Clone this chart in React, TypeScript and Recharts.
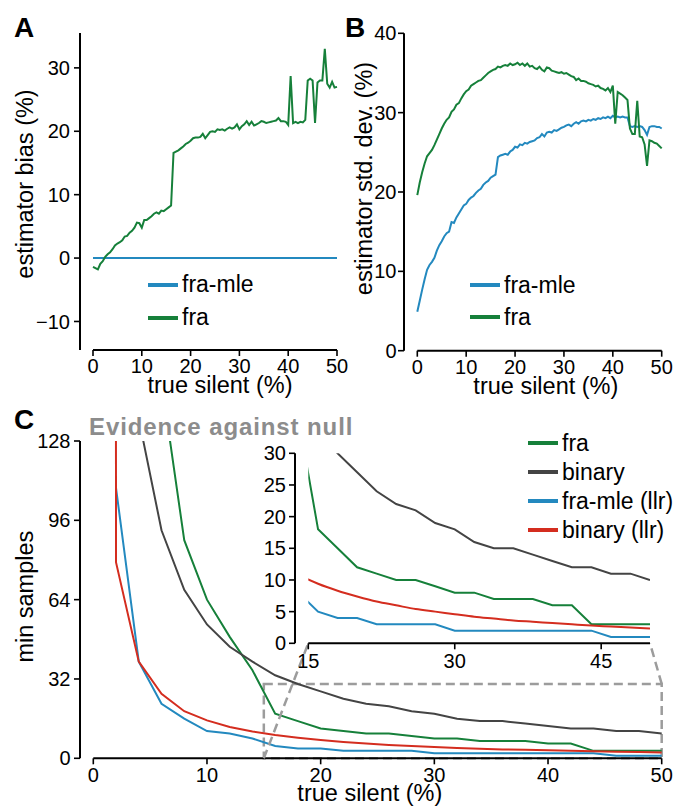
import { LineChart, Line, XAxis, YAxis, Legend, ReferenceLine, ReferenceArea } from 'recharts';

// x grid for panels A and B (true silent, %)
const silentFine = [
  0, 0.5, 1, 1.5, 2, 2.5, 3, 3.5, 4, 4.5,
  5, 5.5, 6, 6.5, 7, 7.5, 8, 8.5, 9, 9.5,
  10, 10.5, 11, 11.5, 12, 12.5, 13, 13.5, 14, 14.5,
  15, 15.5, 16, 16.5, 17, 17.5, 18, 18.5, 19, 19.5,
  20, 20.5, 21, 21.5, 22, 22.5, 23, 23.5, 24, 24.5,
  25, 25.5, 26, 26.5, 27, 27.5, 28, 28.5, 29, 29.5,
  30, 30.5, 31, 31.5, 32, 32.5, 33, 33.5, 34, 34.5,
  35, 35.5, 36, 36.5, 37, 37.5, 38, 38.5, 39, 39.5,
  40, 40.5, 41, 41.5, 42, 42.5, 43, 43.5, 44, 44.5,
  45, 45.5, 46, 46.5, 47, 47.5, 48, 48.5, 49, 49.5,
  50,
];

// A: estimator bias (%)
const biasFraMle = [
  0, 0, 0, 0, 0, 0, 0, 0, 0, 0,
  0, 0, 0, 0, 0, 0, 0, 0, 0, 0,
  0, 0, 0, 0, 0, 0, 0, 0, 0, 0,
  0, 0, 0, 0, 0, 0, 0, 0, 0, 0,
  0, 0, 0, 0, 0, 0, 0, 0, 0, 0,
  0, 0, 0, 0, 0, 0, 0, 0, 0, 0,
  0, 0, 0, 0, 0, 0, 0, 0, 0, 0,
  0, 0, 0, 0, 0, 0, 0, 0, 0, 0,
  0, 0, 0, 0, 0, 0, 0, 0, 0, 0,
  0, 0, 0, 0, 0, 0, 0, 0, 0, 0,
  0,
];
const biasFra = [
  -1.4, -1.6, -1.8, -0.9, -0.5, 0.2, 0.6, 0.9, 1.4, 2.0,
  2.3, 2.5, 2.8, 3.4, 3.5, 4.0, 4.3, 4.8, 5.6, 5.5,
  4.8, 6.0, 6.0, 6.3, 6.6, 7.0, 7.2, 7.0, 7.5, 7.4,
  7.7, 8.0, 8.3, 16.6, 16.8, 17.0, 17.3, 17.6, 18.0, 18.2,
  18.5, 18.9, 19.0, 19.0, 19.1, 19.6, 18.9, 19.4, 19.9, 20.0,
  19.9, 20.3, 20.2, 20.3, 20.1, 20.4, 20.6, 20.4, 20.6, 21.1,
  20.3, 20.8, 21.1, 21.6, 21.0, 21.5, 20.9, 21.1, 21.3, 21.6,
  21.5, 21.3, 21.4, 21.5, 21.6, 21.7, 22.1, 21.6, 21.6, 21.5,
  21.0, 28.7, 21.3, 21.5, 21.3, 21.5, 21.4, 21.8, 28.0, 28.3,
  28.0, 21.3, 27.7, 28.0, 28.0, 33.0, 27.5, 26.9, 27.8, 26.9,
  27.0,
];

// B: estimator std. dev. (%)
const sdFraMle = [
  4.9, 6.3, 7.7, 9.0, 10.2, 10.8, 11.2, 11.7, 12.6, 13.3,
  13.8, 14.4, 14.8, 15.0, 16.2, 16.1, 16.8, 17.3, 17.8, 18.3,
  18.5, 19.0, 19.3, 19.5, 19.9, 20.2, 20.4, 20.9, 21.2, 21.4,
  21.8, 22.0, 22.2, 24.4, 24.6, 24.7, 24.8, 24.7, 25.1, 25.3,
  25.7, 25.6, 26.0, 25.9, 26.2, 26.1, 26.3, 26.4, 26.5, 26.8,
  26.9, 27.3, 27.0, 27.5, 27.6, 27.5, 27.8, 27.7, 27.9, 28.1,
  28.2, 28.4, 28.5, 28.3, 28.6, 28.8, 28.6, 28.9, 29.0, 28.9,
  29.1, 29.0, 29.2, 29.1, 29.3, 29.2, 29.4, 29.3, 29.5, 29.3,
  29.6, 29.4, 29.5, 29.4, 29.5, 29.4, 29.4, 28.3, 28.2, 28.3,
  28.2, 28.3, 28.2, 27.8, 27.2, 28.2, 28.3, 28.3, 28.2, 28.2,
  28.0,
];
const sdFra = [
  19.6, 21.2, 22.5, 23.6, 24.5, 24.9, 25.3, 25.9, 26.6, 27.3,
  28.0, 28.6, 29.1, 29.4, 30.1, 30.4, 31.0, 31.2, 31.8, 32.3,
  32.7, 32.9, 33.4, 33.6, 33.8, 34.0, 34.1, 34.4, 34.7, 35.0,
  35.2, 35.4, 35.5, 35.8, 35.7, 35.9, 36.0, 35.9, 36.2, 36.0,
  36.1, 36.3, 36.0, 36.2, 35.9, 36.2, 35.8, 35.9, 35.6, 35.5,
  35.8, 35.4, 35.2, 35.7, 35.6, 35.3, 35.2, 35.1, 35.0, 35.1,
  34.9, 35.0, 34.8, 34.6, 34.5, 34.1, 34.3, 34.0, 34.0, 33.9,
  33.7, 33.6, 33.5, 33.3, 33.4, 33.1, 33.0, 32.8, 33.1, 32.6,
  33.4, 28.6, 32.6, 32.4, 32.2, 31.9, 31.6, 28.0, 27.3, 27.3,
  31.5, 27.0, 26.9, 26.0, 23.3, 26.5, 26.4, 26.2, 26.1, 25.8,
  25.5,
];

// C: min samples for evidence against null
const silentCoarse = [2, 4, 6, 8, 10, 12, 14, 16, 18, 20, 22, 24, 26, 28, 30, 32, 34, 36, 38, 40, 42, 44, 46, 48, 50];
const samplesFra = [520, 260, 152, 88, 64, 49, 35.5, 18, 15, 12, 11, 10, 10, 9, 8, 8, 7, 7, 7, 6, 6, 3, 3, 3, 3];
const samplesBinary = [300, 137, 92, 68, 54, 45, 39, 33.5, 30, 27, 24, 22, 21, 19, 18, 16, 15, 15, 14, 13, 12, 12, 11, 11, 10];
const samplesFraMleLlr = [109, 39, 22, 16, 11, 10, 8, 5, 4, 4, 3, 3, 3, 3, 2, 2, 2, 2, 2, 2, 2, 2, 1, 1, 1];
const silentBinaryLlr = [1.95, 2, 4, 6, 8, 10, 12, 14, 16, 18, 20, 22, 24, 26, 28, 30, 32, 34, 36, 38, 40, 42, 44, 46, 48, 50];
const samplesBinaryLlr = [400, 79, 39, 26, 19, 15.3, 12.6, 10.8, 9.4, 8.3, 7.4, 6.6, 6.0, 5.4, 5.0, 4.6, 4.2, 3.9, 3.6, 3.4, 3.2, 3.0, 2.8, 2.65, 2.5, 2.35];

const ticksAx = [0, 10, 20, 30, 40, 50];
const ticksAy = [-10, 0, 10, 20, 30];
const ticksBy = [0, 10, 20, 30, 40];
const ticksCy = [0, 32, 64, 96, 128];
const ticksInsetX = [15, 30, 45];
const ticksInsetY = [0, 5, 10, 15, 20, 25, 30];

const orderAB = ['fra-mle', 'fra'];
const orderC = ['fra', 'binary', 'fra-mle (llr)', 'binary (llr)'];

const GREEN = '#16803a';
const BLUE = '#2389bf';
const RED = '#d42d1f';
const GRAY = '#444444';
const DASH = '#9c9c9c';
const FONT = '"Liberation Sans", Arial, Helvetica, sans-serif';

const rowsA = silentFine.map((x, i) => ({ x, fraMle: biasFraMle[i], fra: biasFra[i] }));
const rowsB = silentFine.map((x, i) => ({ x, fraMle: sdFraMle[i], fra: sdFra[i] }));
const rowsC = silentCoarse.map((x, i) => ({
  x,
  fra: samplesFra[i],
  binary: samplesBinary[i],
  fraMleLlr: samplesFraMleLlr[i],
}));
const rowsRed = silentBinaryLlr.map((x, i) => ({ x, binaryLlr: samplesBinaryLlr[i] }));

// inset corners expressed in main panel C data units
const insetLowLeft = { x: 18.91, y: 46.4 };
const insetLowRight = { x: 48.97, y: 46.4 };

const tickStyle = { fill: '#000', fontSize: 20 };
const tickLineStyle = { stroke: '#000', strokeWidth: 1.6 };
const axisLineStyle = { stroke: '#000', strokeWidth: 2 };
const fmtMinus = (v: number) => (v < 0 ? `\u2212${Math.abs(v)}` : `${v}`);

const xLabel = (text: string, dx: number) => (props: any) => {
  const vb = props.viewBox;
  return (
    <text x={vb.x + vb.width / 2 + dx} y={vb.y + 43} textAnchor="middle" fontSize={23.5} fill="#000">
      {text}
    </text>
  );
};

const yLabel = (text: string, dx: number, dy: number) => (props: any) => {
  const vb = props.viewBox;
  const x = vb.x + vb.width + dx;
  const y = vb.y + vb.height / 2 + dy;
  return (
    <text x={x} y={y} transform={`rotate(-90 ${x} ${y})`} textAnchor="middle" fontSize={23.5} fill="#000">
      {text}
    </text>
  );
};

const LegendRows = ({ payload, rowHeight, order }: any) => {
  const items = [...(payload || [])].sort((a: any, b: any) => order.indexOf(a.value) - order.indexOf(b.value));
  return (
    <div style={{ fontFamily: FONT }}>
      {items.map((p: any) => (
        <div key={p.value} style={{ display: 'flex', alignItems: 'center', height: rowHeight }}>
          <span style={{ display: 'inline-block', width: 30, height: 4, background: p.color, marginRight: 4 }} />
          <span style={{ fontSize: 23, color: '#000', whiteSpace: 'nowrap' }}>{p.value}</span>
        </div>
      ))}
    </div>
  );
};

const Letter = ({ text, left, top }: { text: string; left: number; top: number }) => (
  <div style={{ position: 'absolute', left, top, fontSize: 28, fontWeight: 'bold', lineHeight: 1 }}>{text}</div>
);

export default function App() {
  return (
    <div style={{ position: 'absolute', left: 0, top: 0, width: 681, height: 808, background: '#fff', fontFamily: FONT }}>
      {/* A */}
      <div style={{ position: 'absolute', left: 0, top: 0 }}>
        <LineChart width={360} height={400} data={rowsA} margin={{ top: 33, right: 23, bottom: 20, left: 20 }}>
          <XAxis
            type="number"
            dataKey="x"
            domain={[0, 50]}
            ticks={ticksAx}
            interval={0}
            height={30}
            padding={{ left: 13, right: 0 }}
            axisLine={false}
            tickLine={tickLineStyle}
            tickSize={6}
            tickMargin={3}
            tick={tickStyle}
            label={{ content: xLabel('true silent (%)', 11.5) }}
          />
          <YAxis
            width={60}
            domain={[-14.5, 35.5]}
            ticks={ticksAy}
            interval={0}
            axisLine={axisLineStyle}
            tickLine={tickLineStyle}
            tickSize={6}
            tickMargin={4}
            tick={tickStyle}
            tickFormatter={fmtMinus}
            label={{ content: yLabel('estimator bias (%)', -47, -7.5) }}
          />
          <ReferenceLine segment={[{ x: 0, y: -14.5 }, { x: 50, y: -14.5 }]} stroke="#000" strokeWidth={2} />
          <Line dataKey="fraMle" name="fra-mle" stroke={BLUE} strokeWidth={2} dot={false} isAnimationActive={false} />
          <Line dataKey="fra" name="fra" stroke={GREEN} strokeWidth={2} dot={false} isAnimationActive={false} />
          <Legend
            layout="vertical"
            align="center"
            verticalAlign="middle"
            wrapperStyle={{ left: 148, top: 268, width: 'auto' }}
            content={(p: any) => <LegendRows payload={p.payload} rowHeight={33} order={orderAB} />}
          />
        </LineChart>
      </div>

      {/* B */}
      <div style={{ position: 'absolute', left: 330, top: 0 }}>
        <LineChart width={351} height={400} data={rowsB} margin={{ top: 33.3, right: 19.3, bottom: 19.3, left: 14 }}>
          <XAxis
            type="number"
            dataKey="x"
            domain={[0, 50]}
            ticks={ticksAx}
            interval={0}
            height={30}
            padding={{ left: 13.3, right: 0 }}
            axisLine={false}
            tickLine={tickLineStyle}
            tickSize={6}
            tickMargin={3}
            tick={tickStyle}
            label={{ content: xLabel('true silent (%)', 13) }}
          />
          <YAxis
            width={60}
            domain={[0, 40]}
            ticks={ticksBy}
            interval={0}
            axisLine={axisLineStyle}
            tickLine={tickLineStyle}
            tickSize={6}
            tickMargin={1.5}
            tick={tickStyle}
            label={{ content: yLabel('estimator std. dev. (%)', -32, -13.5) }}
          />
          <ReferenceLine segment={[{ x: 0, y: 0 }, { x: 50, y: 0 }]} stroke="#000" strokeWidth={2} />
          <Line dataKey="fraMle" name="fra-mle" stroke={BLUE} strokeWidth={2} dot={false} isAnimationActive={false} />
          <Line dataKey="fra" name="fra" stroke={GREEN} strokeWidth={2} dot={false} isAnimationActive={false} />
          <Legend
            layout="vertical"
            align="center"
            verticalAlign="middle"
            wrapperStyle={{ left: 140, top: 269, width: 'auto' }}
            content={(p: any) => <LegendRows payload={p.payload} rowHeight={32} order={orderAB} />}
          />
        </LineChart>
      </div>

      {/* C main */}
      <div style={{ position: 'absolute', left: 0, top: 400 }}>
        <LineChart width={681} height={408} data={rowsC} margin={{ top: 41, right: 19.3, bottom: 19.7, left: 20 }}>
          <XAxis
            type="number"
            dataKey="x"
            domain={[0, 50]}
            ticks={ticksAx}
            interval={0}
            height={30}
            padding={{ left: 13.3, right: 0 }}
            axisLine={false}
            tickLine={tickLineStyle}
            tickSize={6}
            tickMargin={3}
            tick={tickStyle}
            label={{ content: xLabel('true silent (%)', -1) }}
          />
          <YAxis
            width={60}
            domain={[0, 128]}
            ticks={ticksCy}
            interval={0}
            allowDataOverflow
            axisLine={axisLineStyle}
            tickLine={tickLineStyle}
            tickSize={6}
            tickMargin={3.5}
            tick={tickStyle}
            label={{ content: yLabel('min samples', -47, -3) }}
          />
          <ReferenceLine segment={[{ x: 0, y: 0 }, { x: 50, y: 0 }]} stroke="#000" strokeWidth={2} />
          <Line dataKey="fra" name="fra" stroke={GREEN} strokeWidth={2} dot={false} isAnimationActive={false} />
          <Line dataKey="binary" name="binary" stroke={GRAY} strokeWidth={2} dot={false} isAnimationActive={false} />
          <Line dataKey="fraMleLlr" name="fra-mle (llr)" stroke={BLUE} strokeWidth={2} dot={false} isAnimationActive={false} />
          <Line
            data={rowsRed}
            dataKey="binaryLlr"
            name="binary (llr)"
            stroke={RED}
            strokeWidth={2}
            dot={false}
            isAnimationActive={false}
          />
          <ReferenceArea x1={15} x2={50} y1={0} y2={30} fill="none" stroke={DASH} strokeWidth={2.5} strokeDasharray="9 5" />
          <ReferenceLine
            segment={[{ x: 15, y: 0 }, insetLowLeft]}
            ifOverflow="visible"
            stroke={DASH}
            strokeWidth={2.5}
            strokeDasharray="9 5"
          />
          <ReferenceLine
            segment={[{ x: 50, y: 30 }, insetLowRight]}
            ifOverflow="visible"
            stroke={DASH}
            strokeWidth={2.5}
            strokeDasharray="9 5"
          />
          <Legend
            layout="vertical"
            align="center"
            verticalAlign="middle"
            wrapperStyle={{ left: 528, top: 28.5, width: 'auto' }}
            content={(p: any) => <LegendRows payload={p.payload} rowHeight={29} order={orderC} />}
          />
        </LineChart>
      </div>

      {/* C inset: y axis (offset spine) */}
      <div style={{ position: 'absolute', left: 230, top: 430 }}>
        <LineChart width={430} height={250} data={rowsC} margin={{ top: 23.3, right: 10, bottom: 36.7, left: 5 }}>
          <XAxis hide type="number" dataKey="x" domain={[15, 50]} allowDataOverflow />
          <YAxis
            width={60}
            domain={[0, 30]}
            allowDataOverflow
            ticks={ticksInsetY}
            interval={0}
            axisLine={axisLineStyle}
            tickLine={tickLineStyle}
            tickSize={6}
            tickMargin={3}
            tick={tickStyle}
          />
          <Line dataKey="binary" stroke="none" dot={false} legendType="none" isAnimationActive={false} />
        </LineChart>
      </div>

      {/* C inset: zoomed curves */}
      <div style={{ position: 'absolute', left: 230, top: 430 }}>
        <LineChart width={430} height={250} data={rowsC} margin={{ top: 23.3, right: 10, bottom: 6.7, left: 78.3 }}>
          <XAxis
            type="number"
            dataKey="x"
            domain={[15, 50]}
            allowDataOverflow
            ticks={ticksInsetX}
            interval={0}
            height={30}
            axisLine={axisLineStyle}
            tickLine={tickLineStyle}
            tickSize={6}
            tickMargin={4}
            tick={tickStyle}
          />
          <YAxis hide domain={[0, 30]} allowDataOverflow />
          <Line dataKey="fra" stroke={GREEN} strokeWidth={2} dot={false} isAnimationActive={false} />
          <Line dataKey="binary" stroke={GRAY} strokeWidth={2} dot={false} isAnimationActive={false} />
          <Line dataKey="fraMleLlr" stroke={BLUE} strokeWidth={2} dot={false} isAnimationActive={false} />
          <Line data={rowsRed} dataKey="binaryLlr" type="monotone" stroke={RED} strokeWidth={2} dot={false} isAnimationActive={false} />
        </LineChart>
      </div>

      <Letter text="A" left={14} top={14.3} />
      <Letter text="B" left={345} top={14.3} />
      <Letter text="C" left={14} top={406.3} />
      <div
        style={{
          position: 'absolute',
          left: 89,
          top: 414.7,
          fontSize: 24,
          fontWeight: 'bold',
          letterSpacing: 0.9,
          color: '#8c8c8c',
          lineHeight: 1,
          whiteSpace: 'nowrap',
        }}
      >
        Evidence against null
      </div>
    </div>
  );
}
